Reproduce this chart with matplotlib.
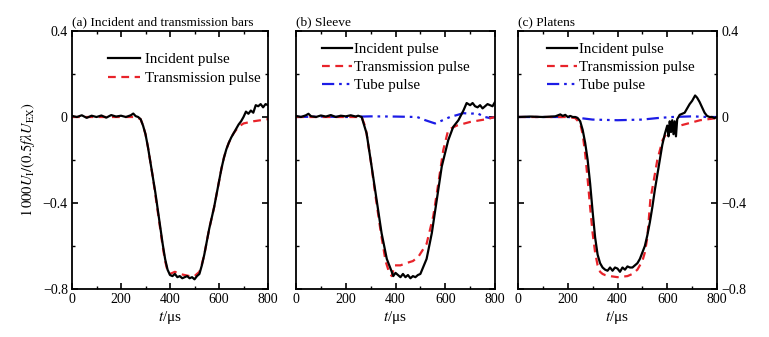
import numpy as np
import matplotlib
matplotlib.use('Agg')
import matplotlib.pyplot as plt
from matplotlib.ticker import MultipleLocator

plt.rcParams['font.family'] = ['Liberation Serif', 'DejaVu Serif']
plt.rcParams['mathtext.fontset'] = 'stix'

# --------------------------------------------------------------------------------}
# --- Data (t in us)
# --------------------------------------------------------------------------------{
# (a) Incident and transmission bars
t_inc_a = [0, 20, 40, 60, 80, 100, 120, 140, 160, 180, 200, 220, 240, 250, 260, 270, 280, 290, 300,
           310, 320, 330, 340, 350, 360, 370, 380, 390, 400, 410, 420, 430, 440, 450, 460, 470, 480,
           490, 500, 510, 520, 530, 540, 550, 560, 570, 580, 590, 600, 610, 620, 630, 640, 650, 660,
           670, 680, 690, 700, 710, 720, 730, 740, 750, 760, 770, 780, 790, 800]
u_inc_a = [0.005, 0.0, 0.008, -0.004, 0.006, 0.0, 0.007, -0.003, 0.009, 0.002, 0.006, 0.0, 0.008, 0.016,
           0.004, 0.0, -0.01, -0.04, -0.08, -0.14, -0.21, -0.28, -0.35, -0.43, -0.51, -0.59, -0.66,
           -0.71, -0.735, -0.74, -0.73, -0.745, -0.74, -0.75, -0.745, -0.74, -0.75, -0.745, -0.755,
           -0.74, -0.73, -0.69, -0.64, -0.58, -0.52, -0.47, -0.42, -0.36, -0.30, -0.24, -0.19, -0.15,
           -0.12, -0.095, -0.075, -0.055, -0.035, -0.02, 0.0, 0.025, 0.015, 0.03, 0.02, 0.055, 0.05,
           0.06, 0.045, 0.06, 0.055]
t_tra_a = [0, 100, 200, 260, 280, 290, 300, 310, 320, 330, 340, 350, 360, 370, 380, 390, 400, 420, 440,
           460, 480, 500, 510, 520, 530, 540, 550, 560, 570, 580, 590, 600, 610, 620, 630, 640, 650,
           660, 680, 700, 740, 800]
u_tra_a = [0.0, 0.0, 0.0, 0.0, -0.01, -0.04, -0.08, -0.14, -0.21, -0.28, -0.36, -0.44, -0.52, -0.60,
           -0.67, -0.715, -0.73, -0.72, -0.73, -0.735, -0.74, -0.74, -0.73, -0.72, -0.685, -0.64, -0.58,
           -0.52, -0.47, -0.42, -0.36, -0.30, -0.24, -0.19, -0.15, -0.12, -0.095, -0.075, -0.045, -0.03,
           -0.02, -0.01]

# (b) Sleeve
t_inc_b = [0, 20, 40, 50, 60, 80, 100, 120, 140, 160, 180, 200, 220, 240, 250, 264, 284, 304, 324, 344,
           365, 385, 391, 400, 410, 420, 430, 440, 450, 460, 470, 480, 490, 500, 525, 546, 566, 586,
           612, 632, 653, 673, 686, 700, 710, 720, 730, 740, 750, 760, 770, 780, 790, 800]
u_inc_b = [0.005, 0.0, 0.008, 0.015, 0.004, 0.0, 0.007, 0.002, 0.009, 0.0, 0.006, 0.003, 0.008, 0.002,
           0.006, 0.0, -0.077, -0.23, -0.385, -0.54, -0.66, -0.72, -0.74, -0.725, -0.735, -0.745, -0.73,
           -0.745, -0.735, -0.75, -0.74, -0.745, -0.735, -0.73, -0.66, -0.54, -0.385, -0.23, -0.108,
           -0.046, -0.015, 0.03, 0.065, 0.055, 0.065, 0.05, 0.045, 0.055, 0.04, 0.05, 0.06, 0.055, 0.05,
           0.07]
t_tra_b = [0, 100, 200, 264, 280, 300, 320, 340, 360, 375, 385, 396, 420, 442, 470, 492, 525, 552, 572,
           592, 612, 646, 700, 767, 800]
u_tra_b = [0.0, 0.0, 0.0, 0.0, -0.05, -0.20, -0.37, -0.53, -0.67, -0.725, -0.74, -0.69, -0.69, -0.68,
           -0.67, -0.65, -0.59, -0.46, -0.31, -0.154, -0.06, -0.04, -0.023, -0.01, 0.0]
t_tub_b = [0, 100, 200, 300, 400, 487, 520, 559, 590, 619, 650, 673, 700, 727, 760, 780, 800]
u_tub_b = [0.0, 0.002, 0.0, 0.003, 0.002, 0.0, -0.015, -0.03, -0.015, 0.0, 0.01, 0.018, 0.015, 0.018,
           0.0, -0.005, 0.0]

# (c) Platens
t_inc_c = [0, 50, 100, 150, 170, 180, 190, 200, 210, 220, 230, 240, 250, 260, 270, 280, 290, 300, 310,
           320, 330, 340, 350, 360, 370, 380, 390, 400, 410, 420, 430, 440, 450, 460, 470, 480, 490,
           500, 510, 520, 530, 540, 550, 560, 570, 580, 590, 600, 605, 610, 615, 620, 625, 630, 635,
           640, 650, 660, 670, 680, 690, 700, 712, 720, 730, 740, 750, 760, 770, 780, 790, 800]
u_inc_c = [0.0, 0.002, 0.0, 0.003, 0.012, 0.005, 0.01, 0.0, 0.005, 0.0, 0.0, -0.005, -0.02, -0.06,
           -0.12, -0.20, -0.31, -0.44, -0.56, -0.64, -0.68, -0.70, -0.71, -0.715, -0.70, -0.715, -0.70,
           -0.705, -0.72, -0.70, -0.71, -0.695, -0.70, -0.70, -0.69, -0.68, -0.66, -0.63, -0.60, -0.55,
           -0.49, -0.42, -0.34, -0.27, -0.20, -0.13, -0.08, -0.04, -0.09, -0.02, -0.07, -0.015, -0.08,
           -0.02, -0.09, -0.01, 0.01, 0.015, 0.02, 0.04, 0.06, 0.075, 0.10, 0.09, 0.07, 0.045, 0.02,
           0.005, 0.0, 0.0, -0.005, 0.0]
t_tra_c = [0, 100, 200, 230, 250, 260, 270, 280, 290, 300, 310, 320, 330, 340, 350, 370, 400, 440, 460,
           480, 500, 510, 520, 532, 545, 560, 581, 600, 625, 651, 700, 732, 800]
u_tra_c = [0.0, 0.0, 0.0, -0.005, -0.03, -0.08, -0.17, -0.29, -0.42, -0.54, -0.63, -0.69, -0.72, -0.73,
           -0.735, -0.74, -0.745, -0.74, -0.73, -0.71, -0.67, -0.63, -0.56, -0.385, -0.30, -0.20, -0.108,
           -0.07, -0.05, -0.04, -0.025, -0.015, -0.005]
t_tub_c = [0, 100, 200, 250, 300, 400, 500, 560, 620, 700, 760, 800]
u_tub_c = [0.0, 0.0, 0.0, -0.005, -0.012, -0.015, -0.012, -0.005, 0.0, 0.003, 0.0, 0.0]

titles = ['(a) Incident and transmission bars', '(b) Sleeve', '(c) Platens']
lbl_inc = 'Incident pulse'
lbl_tra = 'Transmission pulse'
lbl_tub = 'Tube pulse'

# --------------------------------------------------------------------------------}
# --- Plot
# --------------------------------------------------------------------------------{
W, H = 769, 337
fig = plt.figure(figsize=(W/100, H/100), dpi=100)
lefts = [72, 296, 518]
widths = [196, 199, 199]
bot, top = 289, 31
axes = [fig.add_axes([l/W, 1-bot/H, w/W, (bot-top)/H]) for l, w in zip(lefts, widths)]

red = '#e8232a'
blue = '#1c1ce6'
dash = (0, (3.5, 2.5))
dd = (0, (5.5, 2.2, 1.2, 2.2, 1.2, 2.2))

data = [
    [(t_inc_a, u_inc_a, 'k', '-', lbl_inc), (t_tra_a, u_tra_a, red, dash, lbl_tra)],
    [(t_inc_b, u_inc_b, 'k', '-', lbl_inc), (t_tra_b, u_tra_b, red, dash, lbl_tra),
     (t_tub_b, u_tub_b, blue, dd, lbl_tub)],
    [(t_inc_c, u_inc_c, 'k', '-', lbl_inc), (t_tra_c, u_tra_c, red, dash, lbl_tra),
     (t_tub_c, u_tub_c, blue, dd, lbl_tub)],
]

for i, ax in enumerate(axes):
    for t, u, c, ls, lab in reversed(data[i]):
        ax.plot(t, u, color=c, linestyle=ls, lw=1.6, label=lab)
    ax.set_xlim(0, 800)
    ax.set_ylim(-0.8, 0.4)
    ax.xaxis.set_major_locator(MultipleLocator(200))
    ax.xaxis.set_minor_locator(MultipleLocator(100))
    ax.yaxis.set_minor_locator(MultipleLocator(0.2))
    ax.tick_params(which='both', direction='in', top=True, right=True, labelsize=10, pad=3)
    ax.tick_params(which='major', length=4, width=1.2)
    ax.tick_params(which='minor', length=2.5, width=1.0)
    for s in ax.spines.values():
        s.set_linewidth(1.3)
    ax.set_yticks([-0.8, -0.4, 0, 0.4])
    ax.set_yticklabels(['\u22120.8', '\u22120.4', '0', '0.4'])
    if i == 1:
        ax.tick_params(labelleft=False)
    if i == 2:
        ax.tick_params(labelleft=False, labelright=True)
    ax.set_xlabel(r'$t$/' + '\u03bcs', fontsize=11, labelpad=2)
    ax.text(0, 1.012, titles[i], transform=ax.transAxes, fontsize=9.6, ha='left', va='bottom')
    h, l = ax.get_legend_handles_labels()
    h, l = h[::-1], l[::-1]
    if i == 0:
        ax.legend(h, l, loc='upper left', bbox_to_anchor=(0.185, 0.915), frameon=False, fontsize=10.8,
                  handlelength=2.1, handletextpad=0.35, labelspacing=0.35, borderpad=0, borderaxespad=0)
    else:
        ax.legend(h, l, loc='upper left', bbox_to_anchor=(0.13 if i == 1 else 0.145, 0.955), frameon=False,
                  fontsize=10.8, handlelength=2.0, handletextpad=0.15, labelspacing=0.3, borderpad=0,
                  borderaxespad=0)

axes[0].set_ylabel(r'$1\,000U_{\mathrm{I}}/(0.5f\lambda U_{\mathrm{EX}})$', fontsize=10.5, labelpad=4)

fig.savefig('out.png', dpi=100)
